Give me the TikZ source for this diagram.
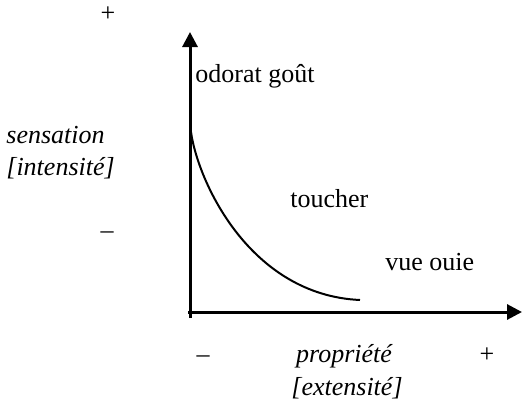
\documentclass[tikz,border=0pt]{standalone}
\usepackage{fontspec}
\setmainfont{Liberation Serif}
\usepackage{tikz}
\usetikzlibrary{calc, positioning, arrows.meta}

\newcommand{\lblsize}{\fontsize{13}{15.6}\selectfont}
\tikzset{
  axisline/.style={line width=1.5pt, -{Triangle[length=7.5pt,width=7.5pt]}},
  lbl/.style={inner sep=0pt, anchor=base west},
  lblmid/.style={inner sep=0pt, anchor=base},
  itl/.style={font=\lblsize\itshape},
}

\begin{document}
\begin{tikzpicture}[x=0.5pt, y=-0.5pt, font=\lblsize]
  \useasboundingbox (0,0) rectangle (524,402);
  \coordinate (ybot)   at (190,318);
  \coordinate (ytop)   at (190,32);
  \coordinate (xleft)  at (188,312);
  \coordinate (xright) at (522,312);
  \coordinate (cstart) at (191,132);
  \coordinate (cend)   at (360,300);
  \draw[axisline] (ybot) -- (ytop);
  \draw[axisline] (xleft) -- (xright);
  \draw[line width=1pt] (cstart) .. controls (198,182) and (250,295) .. (cend);
  % name, x, baseline, text
  \foreach \n/\x/\y/\t in {odgo/195/82/{odorat goût}, touch/290/207/{toucher},
                           vueou/385/270/{vue ouie}} {
    \node[lbl] (\n) at (\x,\y) {\t};
  }
  \node[lbl, itl] (sens)   at (6,143) {sensation};
  \node[lbl, itl] (intens) at (6,175) {[intensité]};
  \node[lblmid] (yplus)  at (108,21)  {+};
  \node[lblmid] (yminus) at (107,238) {–};
  \node[lblmid] (xminus) at (203,362) {–};
  \node[lblmid] (xplus)  at (487,362) {+};
  \node[lblmid, itl] (prop)   at (344,362) {propriété};
  \node[lblmid, itl] (extens) at (347,395) {[extensité]};
\end{tikzpicture}
\end{document}
